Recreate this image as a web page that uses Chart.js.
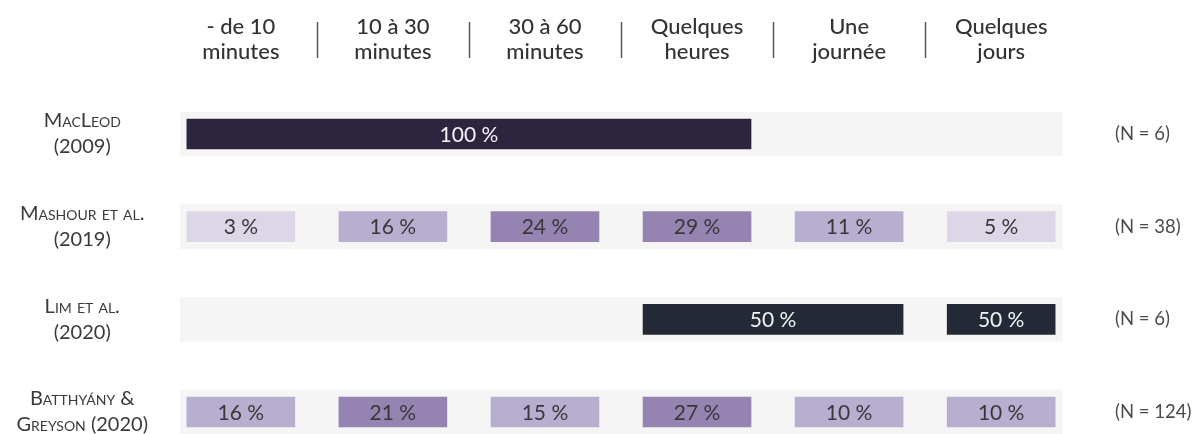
<!DOCTYPE html>
<html lang="fr">
<head>
<meta charset="utf-8">
<script src="https://cdn.jsdelivr.net/npm/chart.js@4/dist/chart.umd.min.js"></script>
<style>
  body { margin: 0; background: #fff; }
  #wrap { width: 1195px; height: 434px; }
</style>
</head>
<body>
<div id="wrap"><canvas id="myChart"></canvas></div>
<script>
const studies = [
  ["MacLeod", "(2009)"],
  ["Mashour et al.", "(2019)"],
  ["Lim et al.", "(2020)"],
  ["Batthyány &", "Greyson (2020)"],
];
const durations = [
  ["- de 10", "minutes"],
  ["10 à 30", "minutes"],
  ["30 à 60", "minutes"],
  ["Quelques", "heures"],
  ["Une", "journée"],
  ["Quelques", "jours"],
];
const sampleSizes = ["(N = 6)", "(N = 38)", "(N = 6)", "(N = 124)"];

// percentages; cells that cover several columns get a [first, last] column pair
const macleodPct = [100];
const macleodCols = [[0, 3]];
const mashourPct = [3, 16, 24, 29, 11, 5];
const limPct = [50, 50];
const limCols = [[3, 4], [5, 5]];
const batthyanyPct = [16, 21, 15, 27, 10, 10];

const half = 0.355;
const light = "#dcd6e6", mid = "#b8aed0", dark = "#9583b2";
function shade(v) {
  if (v < 10) return light;
  if (v <= 20) return mid;
  return dark;
}

// one list of cells per study row
const rows = [
  macleodPct.map((v, i) => ({ v: v, cols: macleodCols[i], color: "#2d2540", text: "#f4f2f7" })),
  mashourPct.map((v, i) => ({ v: v, cols: [i, i], color: shade(v), text: "#383838" })),
  limPct.map((v, i) => ({ v: v, cols: limCols[i], color: "#232a35", text: "#f2f2f2" })),
  batthyanyPct.map((v, i) => ({ v: v, cols: [i, i], color: shade(v), text: "#383838" })),
];

const datasets = [];
for (let k = 0; k < durations.length; k++) {
  const ds = { data: [], pct: [], textColors: [], backgroundColor: [], barThickness: 30, grouped: false, order: 1, clip: false };
  for (let r = 0; r < rows.length; r++) {
    const cell = rows[r][k];
    if (cell) {
      ds.data.push([cell.cols[0] - half, cell.cols[1] + half]);
      ds.pct.push(cell.v);
      ds.textColors.push(cell.text);
      ds.backgroundColor.push(cell.color);
    } else {
      ds.data.push(null);
      ds.pct.push(null);
      ds.textColors.push(null);
      ds.backgroundColor.push("rgba(0,0,0,0)");
    }
  }
  datasets.push(ds);
}
// grey band behind every row
datasets.push({
  data: studies.map(() => [-0.4, durations.length - 0.6]),
  backgroundColor: "#f6f5f6",
  barThickness: 44,
  grouped: false,
  order: 10,
  clip: false,
});

const valueLabels = {
  id: "valueLabels",
  afterDatasetsDraw(chart) {
    const c = chart.ctx;
    c.save();
    c.font = "21px Lato";
    c.textAlign = "center";
    c.textBaseline = "middle";
    chart.data.datasets.forEach((ds, i) => {
      if (!ds.pct) return;
      chart.getDatasetMeta(i).data.forEach((bar, j) => {
        if (ds.pct[j] == null) return;
        const p = bar.getCenterPoint();
        c.fillStyle = ds.textColors[j];
        c.fillText(ds.pct[j] + " %", p.x, p.y + 1);
      });
    });
    c.restore();
  },
};

const separators = {
  id: "separators",
  afterDraw(chart) {
    const c = chart.ctx;
    const x = chart.scales.x;
    c.save();
    c.strokeStyle = "#555";
    c.lineWidth = 1.5;
    for (let i = 0; i < durations.length - 1; i++) {
      const px = Math.round(x.getPixelForValue(i + 0.5)) + 0.5;
      c.beginPath();
      c.moveTo(px, 22);
      c.lineTo(px, 58);
      c.stroke();
    }
    c.restore();
  },
};

function noOverhang(scale) {
  scale.paddingTop = 0;
  scale.paddingBottom = 0;
}

const ctx = document.getElementById("myChart");
new Chart(ctx, {
  type: "bar",
  data: { labels: studies, datasets: datasets },
  plugins: [valueLabels, separators],
  options: {
    indexAxis: "y",
    responsive: true,
    maintainAspectRatio: false,
    animation: false,
    layout: { padding: { top: 0, bottom: 22, left: 0, right: 0 } },
    plugins: { legend: { display: false }, tooltip: { enabled: false } },
    scales: {
      x: {
        type: "linear",
        position: "top",
        min: -0.4,
        max: durations.length - 0.6,
        grid: { display: false },
        border: { display: false },
        afterFit(scale) { scale.height = 134; scale.paddingLeft = 0; scale.paddingRight = 0; },
        afterBuildTicks(scale) { scale.ticks = durations.map((d, i) => ({ value: i })); },
        ticks: {
          padding: 61,
          maxRotation: 0,
          autoSkip: false,
          color: "#333",
          font: { family: "Lato", size: 22, weight: "500", lineHeight: 1.15 },
          callback: (v) => durations[v],
        },
      },
      y: {
        type: "category",
        offset: false,
        grid: { display: false },
        border: { display: false },
        afterFit(scale) { scale.width = 180; noOverhang(scale); },
        ticks: {
          crossAlign: "center",
          padding: 24,
          color: "#3a3a3a",
          font: { family: "Lato", size: 20, weight: "small-caps", lineHeight: 1.3 },
        },
      },
      y2: {
        type: "category",
        position: "right",
        labels: sampleSizes,
        offset: false,
        grid: { display: false },
        border: { display: false },
        afterFit(scale) { scale.width = 133; noOverhang(scale); },
        ticks: {
          crossAlign: "near",
          padding: 45,
          color: "#4a4a4a",
          font: { family: "Lato", size: 18.5 },
        },
      },
    },
  },
});
</script>
</body>
</html>
